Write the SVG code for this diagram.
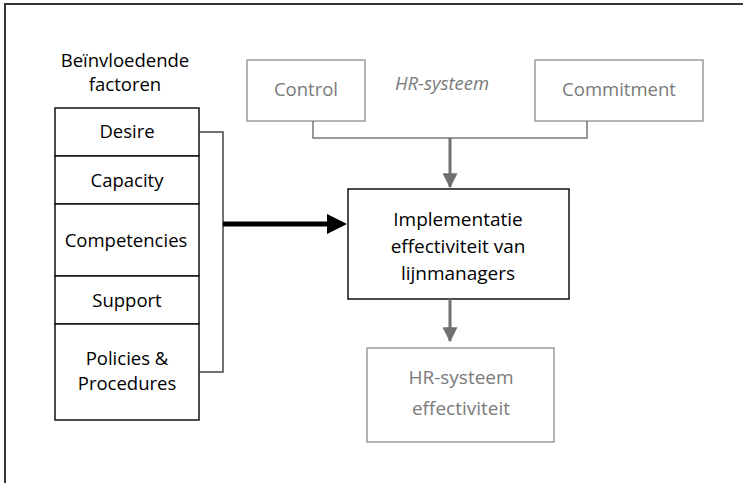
<svg xmlns="http://www.w3.org/2000/svg" width="743" height="483" viewBox="0 0 743 483">
<style>
text{font-family:"Open Sans","Noto Sans","Liberation Sans",sans-serif;font-size:18.5px;text-anchor:middle}
.blk rect{fill:#fff;stroke:#111;stroke-width:1.5}
.gry rect{fill:#fff;stroke:#9a9a9a;stroke-width:1.5}
.gry text{fill:#7a7a7a}
.big{font-size:19px}
</style>
<defs>
<marker id="ah" markerWidth="4" markerHeight="4" refX="3" refY="2" orient="auto" markerUnits="strokeWidth"><path d="M0,0 L4,2 L0,4 z" fill="#000"/></marker>
<marker id="ag" markerWidth="5" markerHeight="5" refX="4.6" refY="2.5" orient="auto" markerUnits="strokeWidth"><path d="M0,0 L5,2.5 L0,5 z" fill="#707070"/></marker>
</defs>
<rect id="frame" x="5" y="4" width="760" height="500" fill="#fff" stroke="#333" stroke-width="2"/>
<g id="title"><text x="125" y="67">Beïnvloedende</text><text x="125" y="91">factoren</text></g>
<g id="desire" class="blk"><rect x="55" y="108" width="144" height="48"/><text x="127" y="138">Desire</text></g>
<g id="capacity" class="blk"><rect x="55" y="156" width="144" height="48"/><text x="127" y="187">Capacity</text></g>
<g id="competencies" class="blk"><rect x="55" y="204" width="144" height="72"/><text x="126" y="247">Competencies</text></g>
<g id="support" class="blk"><rect x="55" y="276" width="144" height="48"/><text x="127" y="307">Support</text></g>
<g id="policies" class="blk"><rect x="55" y="324" width="144" height="96" stroke-width="2"/><text x="127" y="365">Policies &amp;</text><text x="127" y="390">Procedures</text></g>
<g id="control" class="gry"><rect x="247" y="60" width="118" height="61"/><text x="306" y="96">Control</text></g>
<g id="hrlabel" class="gry"><text x="442" y="90" font-style="italic" font-size="18">HR-systeem</text></g>
<g id="commitment" class="gry"><rect x="535" y="60" width="168" height="61"/><text x="619" y="96">Commitment</text></g>
<g id="impl" class="blk"><rect x="348" y="189" width="221" height="110"/><text class="big" x="458" y="226">Implementatie</text><text class="big" x="458" y="253">effectiviteit van</text><text class="big" x="458" y="280">lijnmanagers</text></g>
<g id="hreff" class="gry"><rect x="367" y="348" width="187" height="94"/><text class="big" x="461" y="384">HR-systeem</text><text class="big" x="461" y="415">effectiviteit</text></g>
<g id="connectors" fill="none">
<path d="M199,132 H223 V372 H199" stroke="#444" stroke-width="1.5"/>
<path d="M223,224 H342" stroke="#000" stroke-width="5" marker-end="url(#ah)"/>
<path d="M313,121 V138 H587 V121" stroke="#777" stroke-width="1.5"/>
<path d="M450,138 V187" stroke="#707070" stroke-width="3" marker-end="url(#ag)"/>
<path d="M450,299 V341" stroke="#707070" stroke-width="3" marker-end="url(#ag)"/>
</g>
</svg>
